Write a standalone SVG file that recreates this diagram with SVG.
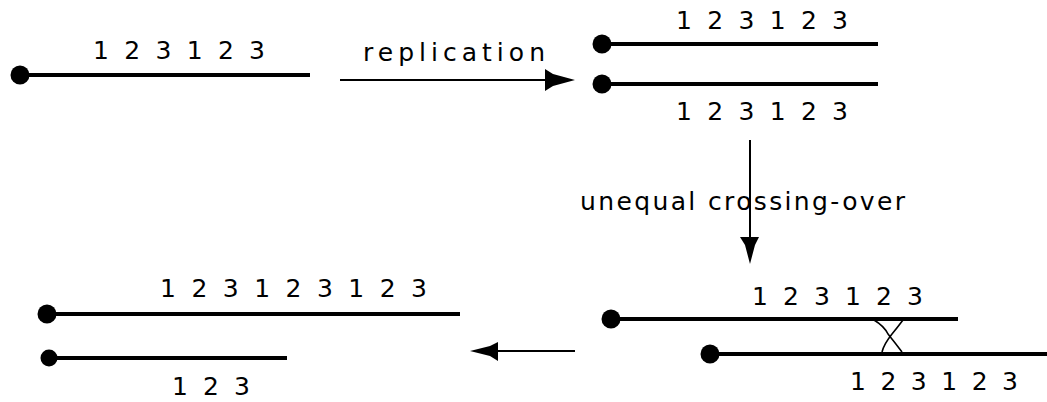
<svg xmlns="http://www.w3.org/2000/svg" width="1047" height="402" viewBox="0 0 1047 402">
<style>
.chr{stroke:#000;stroke-width:4;fill:none}
.cen{fill:#000}
.t{font-family:"DejaVu Sans","Liberation Sans",Arial,sans-serif;font-size:25px;fill:#000}
.arr{stroke:#000;stroke-width:2;fill:none}
.head{fill:#000}
.x{stroke:#000;stroke-width:1.6;fill:none}
</style>
<rect width="1047" height="402" fill="#fff"/>
<g id="original">
<line class="chr" x1="20" y1="75" x2="310" y2="75"/>
<circle class="cen" cx="20" cy="75" r="9.5"/>
<text class="t" x="93" y="59" textLength="172" lengthAdjust="spacing">1 2 3 1 2 3</text>
</g>
<g id="replicated">
<line class="chr" x1="602" y1="44" x2="878" y2="44"/>
<circle class="cen" cx="602" cy="44" r="9.5"/>
<text class="t" x="676" y="29" textLength="172" lengthAdjust="spacing">1 2 3 1 2 3</text>
<line class="chr" x1="602" y1="84" x2="878" y2="84"/>
<circle class="cen" cx="602" cy="84" r="9.5"/>
<text class="t" x="676" y="120" textLength="172" lengthAdjust="spacing">1 2 3 1 2 3</text>
</g>
<g id="crossing">
<line class="chr" x1="611" y1="319" x2="958" y2="319"/>
<circle class="cen" cx="611" cy="319" r="9.5"/>
<text class="t" x="752" y="305" textLength="171" lengthAdjust="spacing">1 2 3 1 2 3</text>
<line class="chr" x1="710" y1="354" x2="1047" y2="354"/>
<circle class="cen" cx="710" cy="354" r="9.5"/>
<text class="t" x="850" y="390" textLength="168" lengthAdjust="spacing">1 2 3 1 2 3</text>
<path class="x" d="M874,320 Q884,326 888,334 Q896,344 902,352 M903,320 Q897,328 892,334 Q884,344 882,352"/>
</g>
<g id="products">
<line class="chr" x1="47" y1="314" x2="460" y2="314"/>
<circle class="cen" cx="47" cy="314" r="9.5"/>
<text class="t" x="160" y="297" textLength="267" lengthAdjust="spacing">1 2 3 1 2 3 1 2 3</text>
<line class="chr" x1="49" y1="358" x2="287" y2="358"/>
<circle class="cen" cx="49" cy="358" r="8.5"/>
<text class="t" x="172" y="395" textLength="78" lengthAdjust="spacing">1 2 3</text>
</g>
<g id="connectors">
<line class="arr" x1="340" y1="80" x2="550" y2="80"/>
<polygon class="head" points="545,69 553,74 575,80 553,86 545,91"/>
<text class="t" x="363" y="61" textLength="182" lengthAdjust="spacing">replication</text>
<line class="arr" x1="750" y1="140" x2="750" y2="240"/>
<polygon class="head" points="740,237 745,245 750,264 755,245 759,237"/>
<text class="t" x="580" y="210" textLength="325" lengthAdjust="spacing">unequal crossing-over</text>
<line class="arr" x1="575" y1="351" x2="494" y2="351"/>
<polygon class="head" points="498,342 490,346 470,351 490,356 498,361"/>
</g>
</svg>
